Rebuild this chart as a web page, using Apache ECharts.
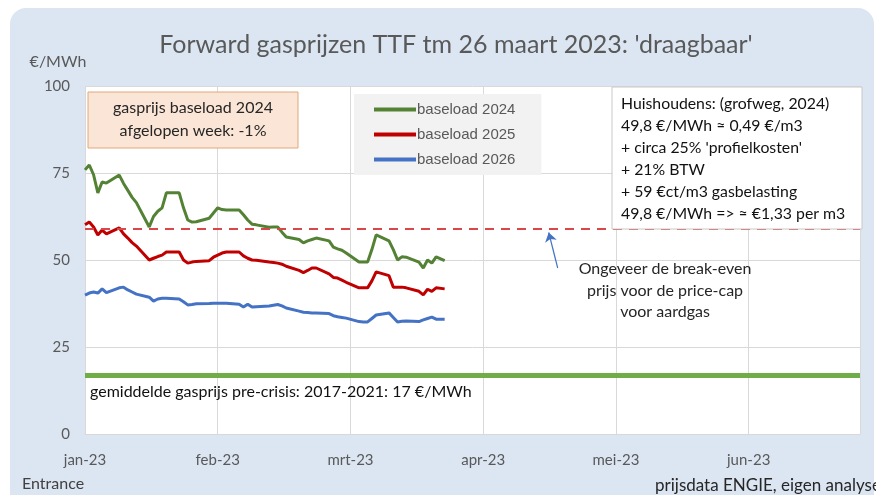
<!DOCTYPE html>
<html>
<head>
<meta charset="utf-8">
<script src="https://cdn.jsdelivr.net/npm/echarts@6/dist/echarts.min.js"></script>
<style>
html,body{margin:0;padding:0;background:#fff;}
#wrap{position:relative;width:876px;height:495px;overflow:hidden;}
#panel{position:absolute;left:10px;top:8px;width:864px;height:510px;background:#dce6f2;border-radius:16px;}
#chart{position:absolute;left:0;top:0;width:876px;height:495px;}
</style>
</head>
<body>
<div id="wrap"><div id="panel"></div><div id="chart"></div></div>
<script>
// handelsdagen (laatste punt = 26 maart)
var dates = [
  '2023-01-01','2023-01-02','2023-01-03','2023-01-04','2023-01-05','2023-01-06','2023-01-09','2023-01-10',
  '2023-01-11','2023-01-12','2023-01-13','2023-01-16','2023-01-17','2023-01-18','2023-01-19','2023-01-20',
  '2023-01-23','2023-01-24','2023-01-25','2023-01-26','2023-01-27','2023-01-30','2023-01-31',
  '2023-02-01','2023-02-02','2023-02-03','2023-02-06','2023-02-07','2023-02-08','2023-02-09','2023-02-10',
  '2023-02-13','2023-02-14','2023-02-15','2023-02-16','2023-02-17','2023-02-20','2023-02-21','2023-02-22',
  '2023-02-23','2023-02-24','2023-02-27','2023-02-28',
  '2023-03-01','2023-03-02','2023-03-03','2023-03-06','2023-03-07','2023-03-08','2023-03-09','2023-03-10',
  '2023-03-13','2023-03-14','2023-03-15','2023-03-16','2023-03-17','2023-03-20','2023-03-21','2023-03-22',
  '2023-03-23','2023-03-24','2023-03-26'
];
var base2024 = [
  75.9, 77.3, 74.5, 69.3, 72.4, 72.1, 74.4, 72.0, 70.0, 68.0, 66.5, 59.5, 62.5, 64.0, 65.0, 69.3,
  69.3, 65.0, 61.5, 60.9, 61.0, 62.0, 63.5,
  65.0, 64.5, 64.4, 64.4, 63.0, 61.5, 60.3, 60.1, 59.4, 59.5, 59.5, 58.0, 56.6, 55.9, 54.9, 55.5,
  55.9, 56.3, 55.5, 53.7,
  53.2, 52.8, 52.0, 49.4, 49.4, 49.4, 53.0, 57.2, 55.5, 53.0, 50.0, 50.9, 50.8, 49.4, 47.7, 50.0,
  49.1, 50.9, 49.8
];
var base2025 = [
  60.1, 60.9, 59.5, 57.2, 58.6, 57.5, 59.2, 57.5, 56.3, 55.0, 54.0, 50.0, 50.5, 51.0, 51.4, 52.3,
  52.3, 50.0, 49.1, 49.4, 49.6, 49.8, 50.8,
  51.4, 52.0, 52.3, 52.3, 51.2, 50.5, 50.0, 49.9, 49.4, 49.3, 49.1, 48.8, 48.2, 47.0, 46.4, 47.0,
  47.7, 47.7, 46.0, 45.0,
  44.8, 44.2, 43.6, 42.0, 42.0, 42.0, 44.0, 46.6, 45.5, 42.2, 42.2, 42.2, 42.0, 41.0, 40.0, 41.6,
  41.0, 42.0, 41.7
];
var base2026 = [
  39.9, 40.5, 40.8, 40.5, 41.7, 40.6, 42.0, 42.2, 41.4, 40.8, 40.2, 39.3, 38.2, 38.8, 39.0, 39.0,
  38.8, 38.0, 37.1, 37.2, 37.4, 37.5, 37.6,
  37.6, 37.6, 37.6, 37.3, 36.5, 37.3, 36.5, 36.6, 36.8, 37.0, 37.2, 36.8, 36.2, 35.3, 35.0, 34.9,
  34.8, 34.8, 34.6, 34.0,
  33.7, 33.5, 33.3, 32.3, 32.2, 32.2, 33.2, 34.2, 34.8, 33.5, 32.2, 32.4, 32.5, 32.3, 32.8, 33.2,
  33.6, 33.0, 33.0
];
var seriesNames = ['baseload 2024', 'baseload 2025', 'baseload 2026'];
var monthNames = ['jan','feb','mrt','apr','mei','jun','jul','aug','sep','okt','nov','dec'];
var yTicks = [0, 25, 50, 75, 100];
var capLevel = 59;      // break-even price-cap
var preCrisis = 17;     // gemiddelde 2017-2021
var boxLines = [
  'Huishoudens: (grofweg, 2024)',
  '49,8 €/MWh ≈ 0,49 €/m3',
  '+ circa 25% \'profielkosten\'',
  '+ 21% BTW',
  '+ 59 €ct/m3 gasbelasting',
  '49,8 €/MWh => ≈ €1,33 per m3'
];
var noteLines = ['Ongeveer de break-even', 'prijs voor de price-cap', 'voor aardgas'];

var day0 = Date.UTC(2023, 0, 1);
function dayIndex(s) {
  var p = s.split('-');
  return (Date.UTC(+p[0], +p[1] - 1, +p[2]) - day0) / 864e5;
}
function pairs(vals) {
  return dates.map(function (d, i) { return [dayIndex(d), vals[i]]; });
}

var font = 'Lato, "Open Sans", sans-serif';
var grey = '#595959';

var graphics = [
  {type: 'text', x: 456, y: 45, z: 100, style: {text: "Forward gasprijzen TTF tm 26 maart 2023: 'draagbaar'", fontFamily: font, fontSize: 25, fill: grey, align: 'center', verticalAlign: 'middle'}},
  {type: 'text', x: 58, y: 62, z: 100, style: {text: '€/MWh', fontFamily: font, fontSize: 16, fill: grey, align: 'center', verticalAlign: 'middle'}},
  {type: 'text', x: 22, y: 484, z: 100, style: {text: 'Entrance', fontFamily: font, fontSize: 16, fill: '#404040', verticalAlign: 'middle'}},
  {type: 'text', x: 655, y: 486, z: 100, style: {text: 'prijsdata ENGIE, eigen analyse', fontFamily: font, fontSize: 17, fill: '#262626', verticalAlign: 'middle'}},
  {type: 'rect', z: 100, shape: {x: 88, y: 92, width: 210, height: 56}, style: {fill: '#fbe5d6', stroke: '#e2a878', lineWidth: 1}},
  {type: 'text', x: 193, y: 108, z: 101, style: {text: 'gasprijs baseload 2024', fontFamily: font, fontSize: 16, fill: '#262626', align: 'center', verticalAlign: 'middle'}},
  {type: 'text', x: 193, y: 131, z: 101, style: {text: 'afgelopen week: -1%', fontFamily: font, fontSize: 16, fill: '#262626', align: 'center', verticalAlign: 'middle'}},
  {type: 'rect', z: 100, shape: {x: 612, y: 87, width: 250, height: 142}, style: {fill: '#fff', stroke: '#c8c8c8', lineWidth: 1}},
  {type: 'text', x: 90, y: 392, z: 100, style: {text: 'gemiddelde gasprijs pre-crisis: 2017-2021: 17 €/MWh', fontFamily: font, fontSize: 16, fill: '#111', verticalAlign: 'middle'}}
];
boxLines.forEach(function (t, i) {
  graphics.push({type: 'text', x: 621, y: 104 + i * 22, z: 101, style: {text: t, fontFamily: font, fontSize: 15.8, fill: '#111', verticalAlign: 'middle'}});
});
noteLines.forEach(function (t, i) {
  graphics.push({type: 'text', x: 665, y: 269 + i * 21.5, z: 100, style: {text: t, fontFamily: font, fontSize: 16, fill: '#262626', align: 'center', verticalAlign: 'middle'}});
});

var chart = echarts.init(document.getElementById('chart'));
chart.setOption({
  backgroundColor: 'transparent',
  animation: false,
  grid: {left: 85, right: 16, top: 86, bottom: 61, show: true, backgroundColor: '#fff', borderWidth: 0},
  legend: {
    data: seriesNames,
    orient: 'vertical',
    left: 354, top: 94,
    icon: 'rect', itemWidth: 42, itemHeight: 4, itemGap: 10,
    backgroundColor: '#f2f2f2',
    padding: [8, 26, 8, 20],
    textStyle: {fontFamily: 'Liberation Sans, Arial, sans-serif', fontSize: 15, color: grey, padding: [0, 0, 0, -4]}
  },
  xAxis: {
    type: 'value', min: 0, max: 181, interval: 31,
    axisLine: {show: true, lineStyle: {color: '#d9d9d9'}},
    axisTick: {show: false},
    splitLine: {show: true, lineStyle: {color: '#d9d9d9'}},
    axisLabel: {
      showMaxLabel: false, margin: 19, fontFamily: font, fontSize: 15, color: grey,
      formatter: function (v) {
        var d = new Date(2023, 0, 1 + v);
        return monthNames[d.getMonth()] + '-' + String(d.getFullYear()).slice(2);
      }
    }
  },
  yAxis: {
    type: 'value', min: yTicks[0], max: yTicks[yTicks.length - 1], interval: 25,
    axisLine: {show: false}, axisTick: {show: false},
    splitLine: {show: true, lineStyle: {color: '#d9d9d9'}},
    axisLabel: {margin: 15, fontFamily: font, fontSize: 15, color: grey}
  },
  series: [
    {name: seriesNames[0], type: 'line', data: pairs(base2024), showSymbol: false, color: '#548235', lineStyle: {width: 3}},
    {name: seriesNames[1], type: 'line', data: pairs(base2025), showSymbol: false, color: '#c00000', lineStyle: {width: 3}},
    {
      name: seriesNames[2], type: 'line', data: pairs(base2026), showSymbol: false, color: '#4472c4', lineStyle: {width: 3},
      markLine: {
        silent: true, symbol: 'none', label: {show: false},
        data: [
          {yAxis: capLevel, lineStyle: {color: '#d9474a', width: 2, type: [9, 7]}},
          {yAxis: preCrisis, lineStyle: {color: '#70ad47', width: 5, type: 'solid'}},
          [
            {coord: [110.4, 47.7], symbol: 'none', lineStyle: {color: '#4472c4', width: 1.2, type: 'solid'}},
            {coord: [108.3, 57.9], symbol: 'arrow', symbolSize: 9}
          ]
        ]
      }
    }
  ],
  graphic: graphics
});
</script>
</body>
</html>
